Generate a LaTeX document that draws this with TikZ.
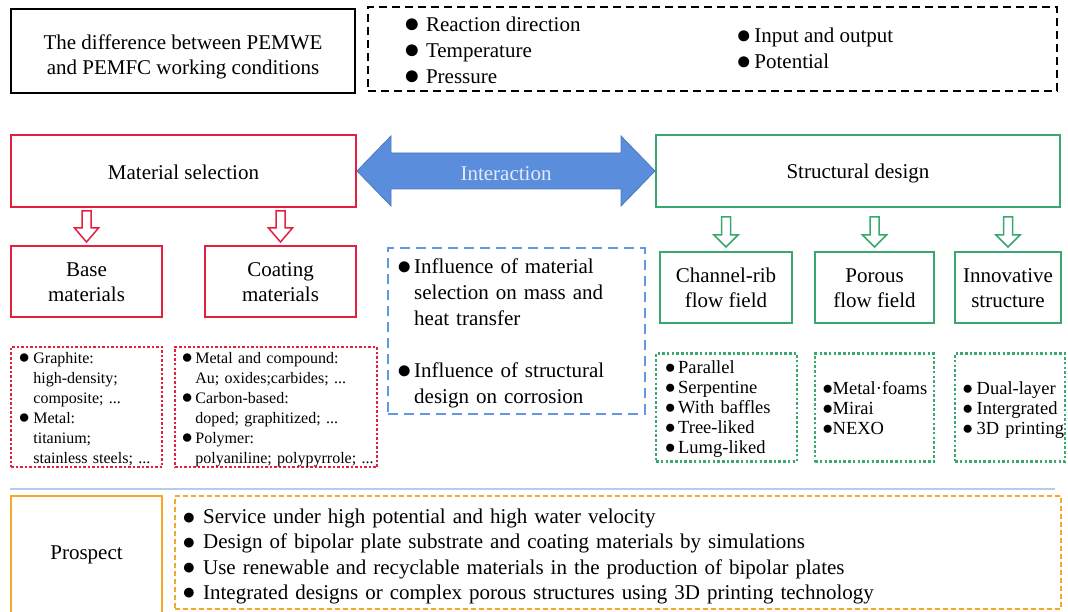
\documentclass[tikz,border=0pt]{standalone}
\usepackage{fontspec}
\setmainfont{Liberation Serif}
\usepackage{graphicx}
\usetikzlibrary{calc}

\definecolor{selred}{RGB}{228,32,62}
\definecolor{desgreen}{RGB}{56,168,110}
\definecolor{linkblue}{RGB}{90,142,220}
\definecolor{dashblue}{RGB}{100,150,230}
\definecolor{prosorange}{RGB}{246,168,40}
\definecolor{rulegray}{RGB}{184,203,235}

\newcommand{\bigtext}{\fontsize{21}{26}\selectfont}
\newcommand{\bulscale}{0.9}
\newcommand{\bul}{\makebox[\bulscale\dimexpr0.604em\relax][c]{%
  $\vcenter{\hbox{\scalebox{\fpeval{1.35*\bulscale}}{●}}}$}}
% lower the ink of a text without changing its box
\newcommand{\dropped}[2][2pt]{\raisebox{-#1}[\height][\depth]{#2}}
\newcommand{\twolines}[2]{\begin{tabular}{@{}c@{}}#1\\#2\end{tabular}}
% hollow block arrow pointing down: colour, top, tip, head length
\newcommand{\hollowdown}[4]{%
  \draw[#1, line width=1.5pt, fill=white]
    ($(#2)+(-4.5,0)$) -- ($(#2)+(4.5,0)$) -- ($(#3)+(4.5,-#4)$)
    -- ($(#3)+(12,-#4)$) -- (#3) -- ($(#3)+(-12,-#4)$)
    -- ($(#3)+(-4.5,-#4)$) -- cycle;}

\tikzset{
  box/.style={draw, line width=2pt, align=center, inner sep=0pt,
    font=\fontsize{21}{25}\selectfont},
  redbox/.style={box, draw=selred},
  greenbox/.style={box, draw=desgreen},
  listbox/.style={align=left, inner ysep=0pt},
  reddots/.style={listbox, draw=selred, line width=2.5pt, dash pattern=on 2.5pt off 2pt,
    font=\fontsize{16}{20}\selectfont},
  greendots/.style={listbox, draw=desgreen, line width=2.5pt, dash pattern=on 2.5pt off 2.2pt,
    font=\fontsize{18.5}{20}\selectfont\def\bulscale{0.75}},
}

\begin{document}
\begin{tikzpicture}[x=1pt, y=-1pt]
  \clip (0,0) rectangle (1068,612);

  % working conditions
  \node[box, minimum width=344pt, minimum height=84pt] (diff) at (183,51)
    {\dropped[6pt]{\twolines{The difference between PEMWE}{and PEMFC working conditions}}};
  \node[draw, line width=2.5pt, dash pattern=on 8pt off 5pt, minimum width=689pt,
    minimum height=84pt] (cond) at (712.5,49) {};
  \node[anchor=west, inner sep=0pt, font=\bigtext\def\bulscale{0.97}] (condl) at (405.5,50)
    {\dropped{\begin{tabular}{@{}l@{\hspace{8pt}}l@{}}
      \bul & Reaction direction\\ \bul & Temperature\\ \bul & Pressure
    \end{tabular}}};
  \node[anchor=west, inner sep=0pt, font=\bigtext] (condr) at (738,48)
    {\dropped{\begin{tabular}{@{}l@{\hspace{4.8pt}}l@{}}
      \bul & Input and output\\ \bul & Potential
    \end{tabular}}};

  % main blocks
  \node[redbox, minimum width=345pt, minimum height=72pt] (mat) at (183.5,171)
    {\dropped[1.5pt]{Material selection}};
  \node[greenbox, minimum width=404pt, minimum height=72pt] (struct) at (858,171)
    {\dropped[2.5pt]{Structural design}};
  \fill[linkblue, draw=linkblue!85!black, line width=0.8pt]
    (mat.east) -- ($(mat.east)+(34,-35)$) -- ($(mat.east)+(34,-18)$)
    -- ($(struct.west)+(-34,-18)$) -- ($(struct.west)+(-34,-35)$) -- (struct.west)
    -- ($(struct.west)+(-34,35)$) -- ($(struct.west)+(-34,18)$)
    -- ($(mat.east)+(34,18)$) -- ($(mat.east)+(34,35)$) -- cycle;
  \node[font=\bigtext, text={rgb,255:red,228;green,233;blue,252}] (inter)
    at ($(mat.east)!0.5!(struct.west)$) {\dropped[3pt]{Interaction}};

  % material selection
  \node[redbox, minimum width=151pt, minimum height=71pt] (base) at (86.5,281.5)
    {\dropped[2.5pt]{\twolines{Base}{materials}}};
  \node[redbox, minimum width=151pt, minimum height=71pt] (coat) at (280.5,281.5)
    {\dropped[2.5pt]{\twolines{Coating}{materials}}};
  \path (mat.south -| base.north) ++(0,3) coordinate (ra) (base.north) ++(0,-3) coordinate (rb);
  \path (mat.south -| coat.north) ++(0,3) coordinate (rc) (coat.north) ++(0,-3) coordinate (rd);
  \hollowdown{selred}{ra}{rb}{14}
  \hollowdown{selred}{rc}{rd}{14}

  \node[reddots, inner xsep=9pt, text width=133pt, minimum height=120pt] (baselist) at (86.5,407)
    {\dropped{\begin{tabular}{@{}l@{\hspace{4.7pt}}l@{}}
      \bul & Graphite:\\ & high-density;\\ & composite; ...\\
      \bul & Metal:\\ & titanium;\\ & stainless steels; ...
    \end{tabular}}};
  \node[reddots, inner xsep=8pt, text width=186pt, minimum height=120pt] (coatlist) at (276,407)
    {\dropped{\begin{tabular}{@{}l@{\hspace{3.7pt}}l@{}}
      \bul & Metal and compound:\\ & Au; oxides;carbides; ...\\
      \bul & Carbon-based:\\ & doped; graphitized; ...\\
      \bul & Polymer:\\ & polyaniline; polypyrrole; ...
    \end{tabular}}};

  % interaction influence
  \node[listbox, draw=dashblue, line width=2pt, dash pattern=on 10pt off 6pt,
    inner xsep=10.3pt, text width=236pt, minimum height=165pt, font=\bigtext] (infl) at (516.5,331)
    {\dropped{\begin{tabular}{@{}l@{\hspace{4.3pt}}l@{}}
      \bul & Influence of material\\ & selection on mass and\\ & heat transfer\\ & \\
      \bul & Influence of structural\\ & design on corrosion
    \end{tabular}}};

  % structural design
  \node[greenbox, minimum width=132pt, minimum height=71pt] (chan) at (726,287.5)
    {\dropped[2.5pt]{\twolines{Channel-rib}{flow field}}};
  \node[greenbox, minimum width=119pt, minimum height=71pt] (por) at (874.5,287.5)
    {\dropped[2.5pt]{\twolines{Porous}{flow field}}};
  \node[greenbox, minimum width=106pt, minimum height=71pt] (innov) at (1008,287.5)
    {\dropped[2.5pt]{\twolines{Innovative}{structure}}};
  \foreach \n/\m in {chan/ga, por/gb, innov/gc} {
    \path (struct.south -| \n.north) ++(0,9) coordinate (\m1) (\n.north) ++(0,-4) coordinate (\m2);
    \hollowdown{desgreen}{\m1}{\m2}{12}
  }

  \node[greendots, inner xsep=9.8pt, text width=121pt, minimum height=108pt] (chanlist) at (726.5,407.5)
    {\dropped{\begin{tabular}{@{}l@{\hspace{3.8pt}}l@{}}
      \bul & Parallel\\ \bul & Serpentine\\ \bul & With baffles\\ \bul & Tree-liked\\ \bul & Lumg-liked
    \end{tabular}}};
  \node[greendots, inner xsep=8.3pt, text width=102pt, minimum height=108pt] (porlist) at (874.5,407.5)
    {\dropped[3pt]{\begin{tabular}{@{}l@{\hspace{0.8pt}}l@{}}
      \bul & Metal·foams\\ \bul & Mirai\\ \bul & NEXO
    \end{tabular}}};
  \node[greendots, inner xsep=8.3pt, text width=93pt, minimum height=108pt] (innovlist) at (1010,407.5)
    {\dropped[3pt]{\begin{tabular}{@{}l@{\hspace{4.8pt}}l@{}}
      \bul & Dual-layer\\ \bul & Intergrated\\ \bul & 3D printing
    \end{tabular}}};

  % prospect
  \draw[rulegray, line width=2pt] (10,489) -- (1055,489);
  \node[box, draw=prosorange, minimum width=151pt, minimum height=118pt] (pros) at (86.5,555)
    {Prospect};
  \node[listbox, draw=prosorange, line width=2pt, dash pattern=on 5pt off 3pt,
    inner xsep=9pt, text width=868pt, minimum height=113pt,
    font=\fontsize{21}{25.3}\selectfont\def\bulscale{0.8}] (outlook) at (618,552.5)
    {\dropped[4pt]{\begin{tabular}{@{}l@{\hspace{9pt}}l@{}}
      \bul & Service under high potential and high water velocity\\
      \bul & Design of bipolar plate substrate and coating materials by simulations\\
      \bul & Use renewable and recyclable materials in the production of bipolar plates\\
      \bul & Integrated designs or complex porous structures using 3D printing technology
    \end{tabular}}};
\end{tikzpicture}
\end{document}
